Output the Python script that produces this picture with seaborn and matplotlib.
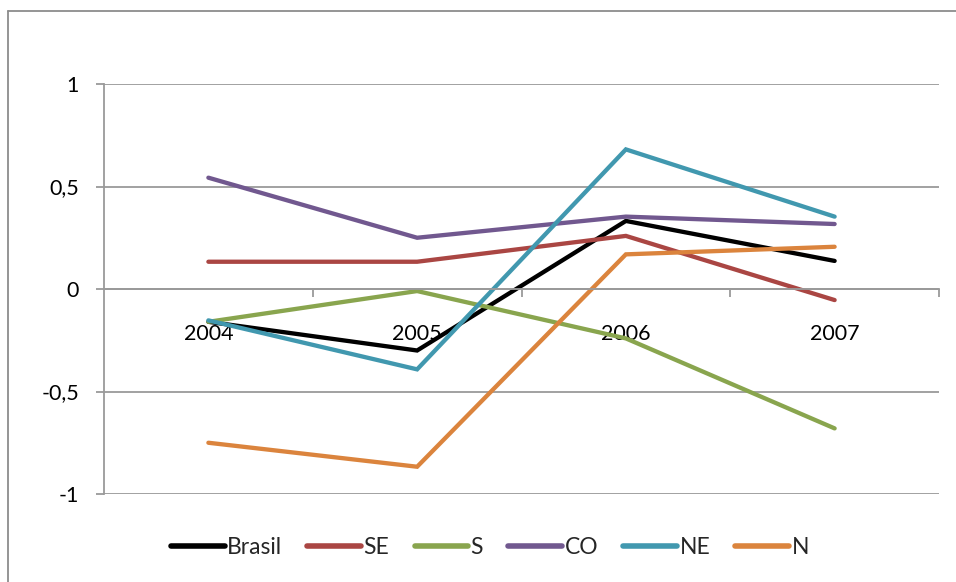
import matplotlib
matplotlib.use("Agg")
import matplotlib.pyplot as plt
import seaborn as sns
import pandas as pd
from matplotlib.lines import Line2D
from matplotlib.ticker import FixedLocator

years = ["2004", "2005", "2006", "2007"]
series_names = ["Brasil", "SE", "S", "CO", "NE", "N"]
brasil = [-0.16, -0.30, 0.332, 0.137]
se = [0.133, 0.133, 0.259, -0.054]
s = [-0.16, -0.01, -0.241, -0.68]
co = [0.543, 0.25, 0.353, 0.317]
ne = [-0.153, -0.392, 0.681, 0.353]
n = [-0.75, -0.867, 0.169, 0.206]
y_ticks = [-1, -0.5, 0, 0.5, 1]
y_tick_labels = ["-1", "-0,5", "0", "0,5", "1"]
colors = ["#000000", "#AA4643", "#89A54E", "#71588F", "#4198AF", "#DB843D"]

values = [brasil, se, s, co, ne, n]
rows = []
for name, vals in zip(series_names, values):
    for yr, v in zip(years, vals):
        rows.append({"Ano": yr, "Valor": v, "Região": name})
df = pd.DataFrame(rows)

sns.set_theme(style="white")
plt.rcParams["font.family"] = ["Lato", "DejaVu Sans"]

W, H = 956, 582
fig = plt.figure(figsize=(W / 100, H / 100), dpi=100)
ax = fig.add_axes([104 / W, (H - 494) / H, (939 - 104) / W, (494 - 84) / H])

sns.lineplot(data=df, x="Ano", y="Valor", hue="Região", hue_order=series_names,
             palette=colors, linewidth=3.1, ax=ax, sort=False, legend=True)
for ln in ax.get_lines():
    ln.set_solid_capstyle("round")
    ln.set_solid_joinstyle("miter")

grid_c = "#9a9a9a"
ax.set_xlim(-0.5, 3.5)
ax.set_ylim(-1, 1)
ax.set_yticks(y_ticks)
ax.set_yticklabels(y_tick_labels)
ax.yaxis.grid(True, color=grid_c, linewidth=1.3)
ax.set_axisbelow(True)
ax.set_xlabel("")
ax.set_ylabel("")

for side in ["top", "right"]:
    ax.spines[side].set_visible(False)
ax.spines["left"].set_color(grid_c)
ax.spines["left"].set_linewidth(1.3)
ax.spines["bottom"].set_position(("data", 0))
ax.spines["bottom"].set_color(grid_c)
ax.spines["bottom"].set_linewidth(1.3)

ax.set_xticks(range(len(years)))
ax.set_xticklabels(years)
ax.xaxis.set_minor_locator(FixedLocator([0.5, 1.5, 2.5, 3.5]))
ax.tick_params(axis="x", which="major", length=0, pad=25, labelsize=15.5, labelcolor="black")
ax.tick_params(axis="x", which="minor", length=6, width=1.3, color=grid_c, direction="out", bottom=True)
ax.tick_params(axis="y", which="major", length=6, width=1.3, color=grid_c, direction="out",
               left=True, pad=12, labelsize=15.5, labelcolor="black")

handles, labels = ax.get_legend_handles_labels()
ax.get_legend().remove()
for h in handles:
    h.set_linewidth(4)
    h.set_solid_capstyle("round")
fig.legend(handles, labels, loc="center", bbox_to_anchor=(490 / W, (H - 548) / H),
           ncol=6, frameon=False, fontsize=16.5, handlelength=2.35, handletextpad=0.1,
           columnspacing=1.1)

frame_c = "#8c8c8c"
fig.add_artist(Line2D([8 / W, 8 / W], [0, (H - 10.5) / H], transform=fig.transFigure,
                      color=frame_c, linewidth=1.3))
fig.add_artist(Line2D([8 / W, 1], [(H - 10.5) / H, (H - 10.5) / H], transform=fig.transFigure,
                      color=frame_c, linewidth=1.3))

fig.savefig("out.png", dpi=100)
